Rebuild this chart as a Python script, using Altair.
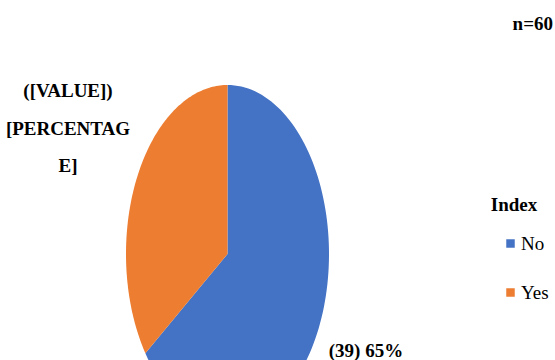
import altair as alt
import numpy as np
import pandas as pd

# ---- data ----
categories = ["No", "Yes"]
counts = [39, 21]
colors = ["#4472C4", "#ED7D31"]
legend_title = "Index"
n_label = "n=60"
placeholder_lines = ["([VALUE])", "[PERCENTAG", "E]"]

total = sum(counts)
pct = [round(100 * c / total) for c in counts]
slice_label = f"({counts[0]}) {pct[0]}%"

# build each slice outline (angles measured clockwise from 12 o'clock)
rows = []
start = 0.0
for cat, c in zip(categories, counts):
    end = start + c / total
    angs = np.linspace(start, end, 120) * 2 * np.pi
    rows.append({"label": cat, "i": 0, "x": 0.0, "y": 0.0})
    for k, a in enumerate(angs):
        rows.append({"label": cat, "i": k + 1, "x": float(np.sin(a)), "y": float(np.cos(a))})
    start = end
pie_df = pd.DataFrame(rows)

W, H = 555, 360
cx, cy, rx, ry = 227.5, 254.0, 101.5, 169.0
xmin = -cx / rx
xmax = xmin + W / rx
ymax = cy / ry
ymin = ymax - H / ry

FONT = "Liberation Serif"

pie = alt.Chart(pie_df).mark_line(strokeWidth=0, clip=True, interpolate="linear").encode(
    x=alt.X("x:Q", scale=alt.Scale(domain=[xmin, xmax], nice=False, zero=False), axis=None),
    y=alt.Y("y:Q", scale=alt.Scale(domain=[ymin, ymax], nice=False, zero=False), axis=None),
    fill=alt.Fill(
        "label:N",
        scale=alt.Scale(domain=categories, range=colors),
        legend=alt.Legend(
            title=None,
            orient="none",
            legendX=501,
            legendY=234,
            padding=0,
            symbolType="square",
            symbolSize=72,
            symbolStrokeWidth=0,
            labelFont=FONT,
            labelFontSize=19,
            labelColor="#000000",
            labelOffset=1,
            rowPadding=29,
        ),
    ),
    detail="label:N",
    order=alt.Order("i:Q"),
)

def txt(text, x, y, align="center", line_height=None):
    kw = dict(font=FONT, fontSize=19, fontWeight="bold", align=align)
    if line_height:
        kw["lineHeight"] = line_height
    return alt.Chart(pd.DataFrame({"t": [0]})).mark_text(**kw).encode(
        x=alt.value(x), y=alt.value(y - 6), text=alt.value(text)
    )

layers = [
    txt(n_label, 553, 30, align="right"),
    txt(placeholder_lines, 68, 97, line_height=37.5),
    txt(legend_title, 514, 211),
    txt(slice_label, 366, 357),
    pie,
]

chart = alt.layer(*layers).properties(
    width=W, height=H, padding=0, autosize=alt.AutoSizeParams(type="none")
).configure(font=FONT).configure_text(font=FONT, color="#000000").configure_view(stroke=None)

chart.save("out.html", embed_options={"renderer": "svg", "actions": False})
